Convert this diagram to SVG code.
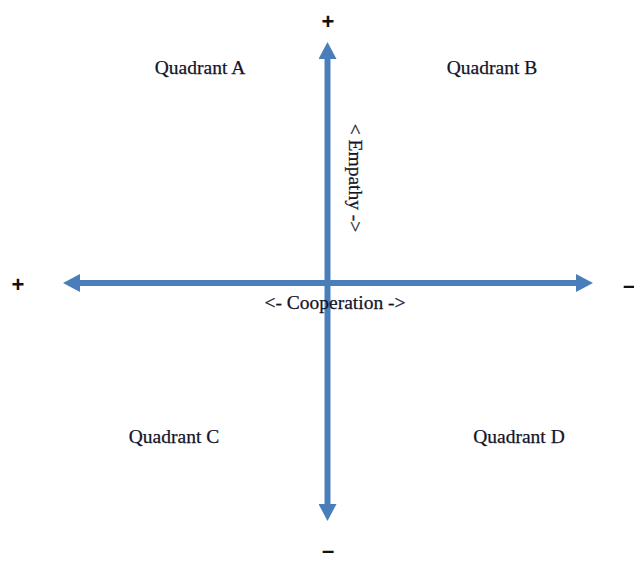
<svg xmlns="http://www.w3.org/2000/svg" width="634" height="562" viewBox="0 0 634 562">
<style>
.lbl{font-family:"Liberation Serif","Times New Roman",serif;font-size:19.5px;fill:#141428;stroke:#141428;stroke-width:0.25}
.sign{font-family:"Liberation Sans",Arial,sans-serif;font-size:22px;font-weight:bold;fill:#111}
.axis{stroke:#4a7ebb;stroke-width:6;fill:none}
</style>
<defs>
<marker id="head" markerUnits="userSpaceOnUse" markerWidth="17" markerHeight="18" refX="1" refY="9" orient="auto-start-reverse" viewBox="0 0 17 18">
<path d="M0,0 L17,9 L0,18 z" fill="#4a7ebb"/>
</marker>
</defs>
<rect width="634" height="562" fill="#ffffff"/>
<g id="connectors">
<line class="axis" x1="327.5" y1="58" x2="327.5" y2="505" marker-start="url(#head)" marker-end="url(#head)"/>
<line class="axis" x1="79" y1="283" x2="577" y2="283" marker-start="url(#head)" marker-end="url(#head)"/>
</g>
<g id="quadrant-a"><text class="lbl" x="200" y="74" text-anchor="middle">Quadrant A</text></g>
<g id="quadrant-b"><text class="lbl" x="492" y="74" text-anchor="middle">Quadrant B</text></g>
<g id="quadrant-c"><text class="lbl" x="174" y="443" text-anchor="middle">Quadrant C</text></g>
<g id="quadrant-d"><text class="lbl" x="519" y="443" text-anchor="middle">Quadrant D</text></g>
<g id="label-cooperation"><text class="lbl" x="335" y="309" text-anchor="middle">&lt;- Cooperation -&gt;</text></g>
<g id="label-empathy"><text class="lbl" transform="translate(349,178) rotate(90)" text-anchor="middle">&lt; Empathy -&gt;</text></g>
<g id="sign-top"><text class="sign" x="328" y="29" text-anchor="middle">+</text></g>
<g id="sign-left"><text class="sign" x="18" y="292" text-anchor="middle">+</text></g>
<g id="sign-right"><text class="sign" x="629" y="293" text-anchor="middle">–</text></g>
<g id="sign-bottom"><text class="sign" x="328" y="558" text-anchor="middle">–</text></g>
</svg>
